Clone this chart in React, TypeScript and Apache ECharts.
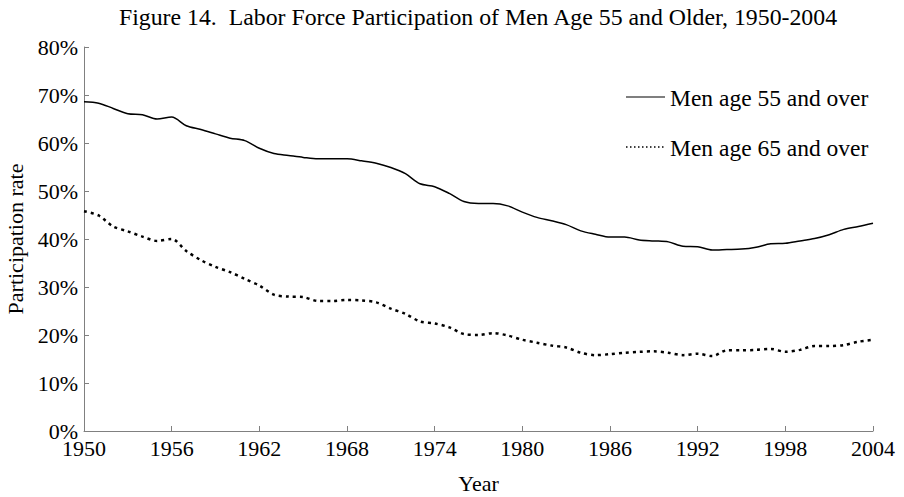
import React, { useEffect, useRef } from "react";
import * as echarts from "echarts";

const years: number[] = [];
for (let y = 1950; y <= 2004; y++) years.push(y);

const men55: number[] = [
  68.6, 68.3, 67.2, 66.1, 65.9, 65.0, 65.4, 63.6, 62.8, 61.9,
  61.0, 60.5, 58.9, 57.8, 57.4, 57.0, 56.7, 56.7, 56.7, 56.3,
  55.8, 54.9, 53.6, 51.5, 50.9, 49.5, 47.8, 47.4, 47.4, 46.9,
  45.6, 44.5, 43.8, 43.0, 41.7, 41.0, 40.4, 40.4, 39.8, 39.6,
  39.4, 38.5, 38.4, 37.7, 37.8, 37.9, 38.3, 39.0, 39.1, 39.6,
  40.1, 40.9, 42.0, 42.6, 43.3,
];

const men65: number[] = [
  45.8, 44.9, 42.6, 41.6, 40.5, 39.6, 40.0, 37.5, 35.6, 34.2,
  33.1, 31.7, 30.3, 28.4, 28.0, 27.9, 27.1, 27.1, 27.3, 27.2,
  26.8, 25.5, 24.4, 22.8, 22.4, 21.6, 20.2, 20.0, 20.4, 19.9,
  19.0, 18.4, 17.8, 17.4, 16.3, 15.8, 16.0, 16.3, 16.5, 16.6,
  16.3, 15.8, 16.1, 15.6, 16.8, 16.8, 16.9, 17.1, 16.5, 16.9,
  17.7, 17.7, 17.9, 18.6, 19.0,
];

const seriesNames = ["Men age 55 and over", "Men age 65 and over"];
const titleText = "Figure 14.  Labor Force Participation of Men Age 55 and Older, 1950-2004";

const FONT = "'Liberation Serif', 'Times New Roman', serif";

export default function App() {
  const ref = useRef<HTMLDivElement>(null);
  useEffect(() => {
    document.body.style.margin = "0";
    const chart = echarts.init(ref.current!, null, { renderer: "svg" });
    const axisColor = "#808080";
    chart.setOption({
      animation: false,
      backgroundColor: "#fff",
      textStyle: { fontFamily: FONT, color: "#000" },
      graphic: [
        {
          type: "text",
          x: 478,
          y: 17,
          style: {
            text: titleText,
            font: `23.8px ${FONT}`,
            fill: "#000",
            textAlign: "center",
            textVerticalAlign: "middle",
          },
        },
        {
          type: "line",
          shape: { x1: 626, y1: 97, x2: 665, y2: 97 },
          style: { stroke: "#000", lineWidth: 1.2 },
        },
        {
          type: "text",
          x: 670,
          y: 98,
          style: {
            text: seriesNames[0],
            font: `23.5px ${FONT}`,
            fill: "#000",
            textAlign: "left",
            textVerticalAlign: "middle",
          },
        },
        {
          type: "line",
          shape: { x1: 626, y1: 147, x2: 665, y2: 147 },
          style: { stroke: "#000", lineWidth: 1.5, lineDash: [1.5, 2.5] },
        },
        {
          type: "text",
          x: 670,
          y: 148,
          style: {
            text: seriesNames[1],
            font: `23.5px ${FONT}`,
            fill: "#000",
            textAlign: "left",
            textVerticalAlign: "middle",
          },
        },
      ],
      grid: { left: 84, right: 31, top: 47, bottom: 66, outerBoundsMode: "none", containLabel: false },
      xAxis: {
        type: "value",
        min: 1950,
        max: 2004,
        interval: 6,
        name: "Year",
        nameLocation: "middle",
        nameGap: 43,
        nameTextStyle: { fontFamily: FONT, fontSize: 22, lineHeight: 18, color: "#000" },
        axisLine: { lineStyle: { color: axisColor, width: 1 } },
        axisTick: { inside: true, length: 5, lineStyle: { color: axisColor } },
        axisLabel: {
          fontFamily: FONT,
          fontSize: 22,
          lineHeight: 16,
          color: "#000",
          margin: 9,
          formatter: (v: number) => String(v),
        },
        splitLine: { show: false },
      },
      yAxis: {
        type: "value",
        min: 0,
        max: 80,
        interval: 10,
        name: "Participation rate",
        nameLocation: "middle",
        nameGap: 52,
        nameRotate: 90,
        nameTextStyle: { fontFamily: FONT, fontSize: 22, color: "#000" },
        axisLine: { show: true, lineStyle: { color: axisColor, width: 1 } },
        axisTick: { show: true, inside: true, length: 5, lineStyle: { color: axisColor } },
        axisLabel: {
          fontFamily: FONT,
          fontSize: 22,
          lineHeight: 16,
          color: "#000",
          margin: 6,
          formatter: "{value}%",
        },
        splitLine: { show: false },
      },
      series: [
        {
          name: seriesNames[0],
          type: "line",
          data: years.map((y, i) => [y, men55[i]]),
          symbol: "none",
          smooth: 0.3,
          lineStyle: { color: "#000", width: 1.5, type: "solid" },
          itemStyle: { color: "#000" },
        },
        {
          name: seriesNames[1],
          type: "line",
          data: years.map((y, i) => [y, men65[i]]),
          symbol: "none",
          smooth: 0.3,
          lineStyle: { color: "#000", width: 2.5, type: [3, 4] },
          itemStyle: { color: "#000" },
        },
      ],
    });
    return () => chart.dispose();
  }, []);
  return (
    <div
      ref={ref}
      style={{ width: 904, height: 497, position: "absolute", left: 0, top: 0 }}
    />
  );
}
